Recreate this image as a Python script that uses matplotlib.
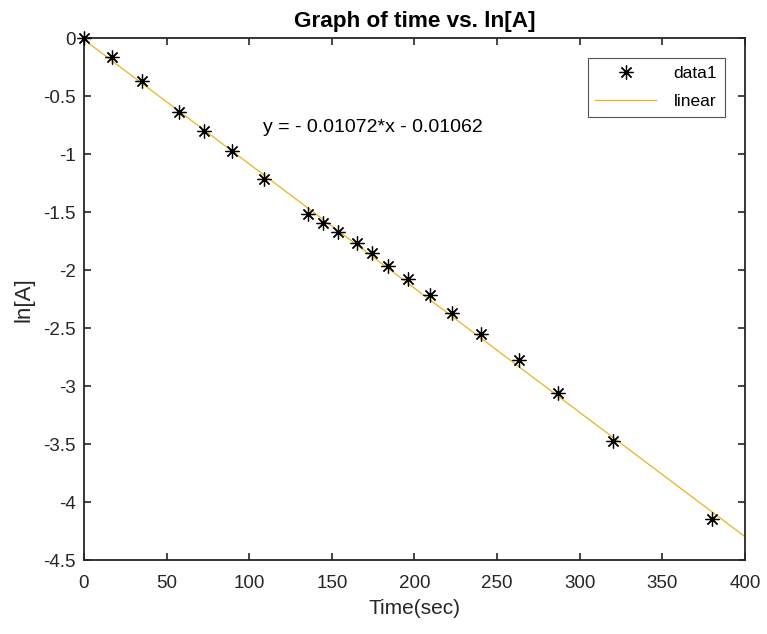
import numpy as np
import matplotlib
matplotlib.use('Agg')
import matplotlib.pyplot as plt

plt.rcParams['font.family'] = ['Liberation Sans', 'DejaVu Sans']

# time (sec) and ln[A]
time = [0, 16.8, 35.2, 57.2, 72.7, 89.5, 109.0, 135.4, 144.4, 154.0, 165.0,
        174.2, 184.2, 196.3, 209.3, 222.8, 240.2, 263.1, 287.0, 320.3, 380.2]
lnA = [0.0, -0.16, -0.37, -0.635, -0.80, -0.975, -1.21, -1.515, -1.59, -1.67, -1.765,
       -1.855, -1.96, -2.075, -2.21, -2.37, -2.55, -2.77, -3.06, -3.47, -4.15]

slope = -0.01072
intercept = -0.01062
fit_x = np.array([0, 400])

dark = '#262626'

fig = plt.figure(figsize=(7.67, 6.34), dpi=100)
ax = fig.add_axes([0.1095, 0.1167, 0.8618, 0.8226])

ax.plot(time, lnA, linestyle='none', marker=(8, 2, 0), markersize=10,
        markeredgewidth=0.9, color='black', label='data1', clip_on=False, zorder=3)
ax.plot(fit_x, intercept + slope * fit_x, color='#EDB120', linewidth=0.9, label='linear')

ax.text(108.5, -0.77, 'y = - 0.01072*x - 0.01062', fontsize=14, color='black',
        va='center', ha='left')

ax.set_xlim(0, 400)
ax.set_ylim(-4.5, 0)
ax.set_xticks(np.arange(0, 401, 50))
ax.set_yticks(np.arange(-4.5, 0.01, 0.5))
ax.set_yticklabels(['-4.5', '-4', '-3.5', '-3', '-2.5', '-2', '-1.5', '-1', '-0.5', '0'])

ax.tick_params(direction='in', top=True, right=True, length=5, width=1.2,
               labelsize=13.5, colors=dark, labelcolor=dark)
ax.tick_params(axis='x', pad=11)
ax.tick_params(axis='y', pad=6)
for s in ax.spines.values():
    s.set_color(dark)
    s.set_linewidth(1.3)

ax.set_xlabel('Time(sec)', fontsize=15, color=dark, labelpad=5)
ax.set_ylabel('ln[A]', fontsize=16, color=dark, labelpad=6)
ax.set_title('Graph of time vs. ln[A]', fontsize=16.2, fontweight='bold', pad=8)

leg = ax.legend(loc='upper right', bbox_to_anchor=(0.9697, 0.9626), borderaxespad=0,
                fontsize=12.5, frameon=True, fancybox=False, edgecolor='#262626',
                handlelength=3.5, borderpad=0.45, labelspacing=0.75, handletextpad=1.0,
                markerfirst=True)
leg.get_frame().set_linewidth(0.8)

fig.savefig('out.png', dpi=100)
